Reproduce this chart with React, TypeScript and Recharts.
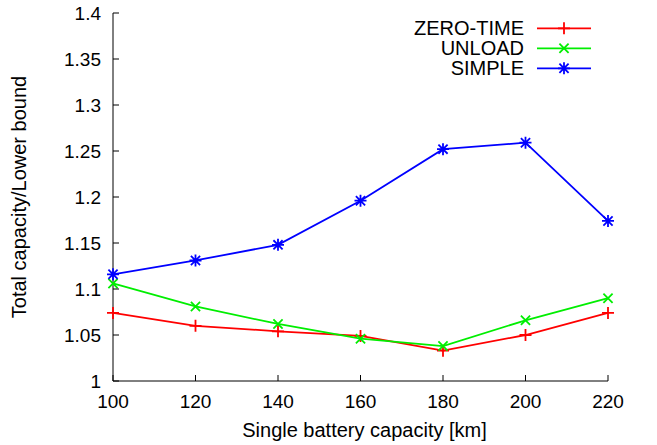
import { LineChart, Line, XAxis, YAxis } from "recharts";

const CAPACITY_KM = [100, 120, 140, 160, 180, 200, 220];
const ZERO_TIME = [1.074, 1.06, 1.054, 1.049, 1.033, 1.05, 1.074];
const UNLOAD = [1.106, 1.081, 1.062, 1.046, 1.038, 1.066, 1.09];
const SIMPLE = [1.116, 1.131, 1.148, 1.196, 1.252, 1.259, 1.174];

const X_TICKS = [100, 120, 140, 160, 180, 200, 220];
const Y_TICKS = [1, 1.05, 1.1, 1.15, 1.2, 1.25, 1.3, 1.35, 1.4];

const DATA = CAPACITY_KM.map((km, i) => ({
  km,
  zero: ZERO_TIME[i],
  unload: UNLOAD[i],
  simple: SIMPLE[i],
}));

const SERIES = [
  { key: "zero", name: "ZERO-TIME", color: "#ff0000", marker: "plus" },
  { key: "unload", name: "UNLOAD", color: "#00ee00", marker: "cross" },
  { key: "simple", name: "SIMPLE", color: "#0000ff", marker: "star" },
];

const FONT = "'Liberation Sans', Arial, sans-serif";
const TICK_LEN = 6;

function Marker({ cx, cy, type, color }: { cx: number; cy: number; type: string; color: string }) {
  const r = 6;
  const d = 4.6;
  let path = "";
  if (type === "plus" || type === "star") {
    path += `M${cx - r},${cy}L${cx + r},${cy}M${cx},${cy - r}L${cx},${cy + r}`;
  }
  if (type === "cross" || type === "star") {
    path += `M${cx - d},${cy - d}L${cx + d},${cy + d}M${cx - d},${cy + d}L${cx + d},${cy - d}`;
  }
  return <path d={path} stroke={color} strokeWidth={1.8} fill="none" />;
}

function BottomTick({ x, y, payload }: any) {
  return (
    <g>
      <line x1={x} x2={x} y1={y} y2={y - TICK_LEN} stroke="#000" />
      <text x={x} y={y + 27} textAnchor="middle" fontSize={19} fontFamily={FONT} fill="#000">
        {payload.value}
      </text>
    </g>
  );
}

function TopTick({ x, y }: any) {
  return <line x1={x} x2={x} y1={y} y2={y + TICK_LEN} stroke="#000" />;
}

function LeftTick({ x, y, payload }: any) {
  return (
    <g>
      <line x1={x} x2={x + TICK_LEN} y1={y} y2={y} stroke="#000" />
      <text x={x - 12} y={y + 7} textAnchor="end" fontSize={19} fontFamily={FONT} fill="#000">
        {payload.value}
      </text>
    </g>
  );
}

function RightTick({ x, y }: any) {
  return <line x1={x} x2={x - TICK_LEN} y1={y} y2={y} stroke="#000" />;
}

function Legend() {
  return (
    <svg width={657} height={100} style={{ position: "absolute", left: 0, top: 0 }}>
      {SERIES.map((s, i) => {
        const y = 28.3 + i * 20;
        return (
          <g key={s.key}>
            <text x={524} y={y + 6.5} textAnchor="end" fontSize={20} fontFamily={FONT} fill="#000">
              {s.name}
            </text>
            <line x1={537} x2={591} y1={y} y2={y} stroke={s.color} strokeWidth={1.8} />
            <Marker cx={564} cy={y} type={s.marker} color={s.color} />
          </g>
        );
      })}
    </svg>
  );
}

export default function App() {
  return (
    <div style={{ position: "absolute", left: 0, top: 0, width: 657, height: 445, background: "#fff" }}>
      <LineChart width={657} height={445} data={DATA} margin={{ top: 13, right: 49, bottom: 0, left: 0 }}>
        <XAxis
          dataKey="km"
          type="number"
          domain={[100, 220]}
          ticks={X_TICKS}
          xAxisId="bottom"
          height={64}
          tickSize={0}
          tickMargin={0}
          tickLine={false}
          axisLine={{ stroke: "#000" }}
          tick={<BottomTick />}
          label={(props: any) => {
            const vb = props.viewBox;
            return (
              <text x={vb.x + vb.width / 2 + 4} y={vb.y + 56} textAnchor="middle" fontSize={20} fontFamily={FONT} fill="#000">
                Single battery capacity [km]
              </text>
            );
          }}
        />
        <XAxis
          dataKey="km"
          type="number"
          domain={[100, 220]}
          ticks={X_TICKS}
          xAxisId="top"
          orientation="top"
          height={0}
          tickSize={0}
          tickMargin={0}
          tickLine={false}
          axisLine={{ stroke: "#000" }}
          tick={<TopTick />}
        />
        <YAxis
          yAxisId="left"
          type="number"
          domain={[1, 1.4]}
          ticks={Y_TICKS}
          width={113}
          tickSize={0}
          tickMargin={0}
          tickLine={false}
          axisLine={{ stroke: "#000" }}
          tick={<LeftTick />}
          label={(props: any) => {
            const vb = props.viewBox;
            const cy = vb.y + vb.height / 2;
            return (
              <text x={26} y={cy} transform={`rotate(-90 26 ${cy})`} textAnchor="middle" fontSize={20} fontFamily={FONT} fill="#000">
                Total capacity/Lower bound
              </text>
            );
          }}
        />
        <YAxis
          yAxisId="right"
          orientation="right"
          type="number"
          domain={[1, 1.4]}
          ticks={Y_TICKS}
          width={0}
          tickSize={0}
          tickMargin={0}
          tickLine={false}
          axisLine={{ stroke: "#000" }}
          tick={<RightTick />}
        />
        {SERIES.map((s) => (
          <Line
            key={s.key}
            dataKey={s.key}
            xAxisId="bottom"
            yAxisId="left"
            stroke={s.color}
            strokeWidth={1.8}
            isAnimationActive={false}
            dot={(p: any) => <Marker key={p.index} cx={p.cx} cy={p.cy} type={s.marker} color={s.color} />}
            activeDot={false}
          />
        ))}
      </LineChart>
      <Legend />
    </div>
  );
}
